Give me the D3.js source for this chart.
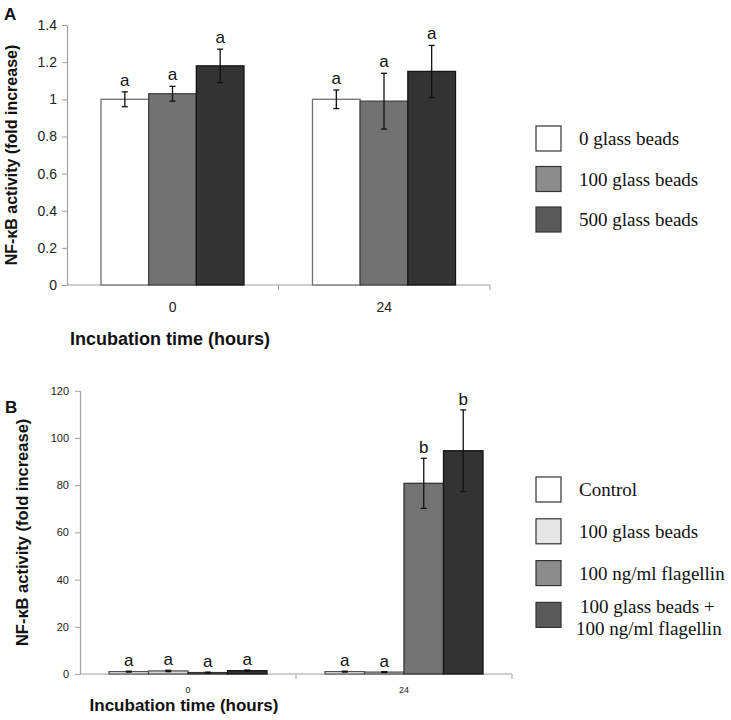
<!DOCTYPE html>
<html><head><meta charset="utf-8">
<script src="https://cdn.jsdelivr.net/npm/d3@7"></script>
<style>body{margin:0;background:#fff}svg{display:block}</style>
</head><body>
<svg id="c" width="731" height="720"></svg>
<script>
// ---------- Data ----------
const groupsA = ["0", "24"];
const seriesA = ["0 glass beads", "100 glass beads", "500 glass beads"];
const valuesA = [[1.00, 1.03, 1.18], [1.00, 0.99, 1.15]];
const errorsA = [[0.04, 0.04, 0.09], [0.05, 0.15, 0.14]];
const lettersA = [["a", "a", "a"], ["a", "a", "a"]];
const yTicksA = [0, 0.2, 0.4, 0.6, 0.8, 1, 1.2, 1.4];

const groupsB = ["0", "24"];
const seriesB = ["Control", "100 glass beads", "100 ng/ml flagellin", "100 glass beads +|100 ng/ml flagellin"];
const valuesB = [[1.0, 1.3, 0.6, 1.4], [1.0, 0.8, 80.8, 94.6]];
const errorsB = [[0.2, 0.3, 0.2, 0.3], [0.2, 0.2, 10.6, 17.3]];
const lettersB = [["a", "a", "a", "a"], ["a", "a", "b", "b"]];
const yTicksB = [0, 20, 40, 60, 80, 100, 120];

const barFillA = ["#ffffff", "#727272", "#333333"];
const barStrokeA = ["#707070", "#444444", "#141414"];
const legFillA = ["#ffffff", "#8c8c8c", "#5a5a5a"];
const barFillB = ["#ffffff", "#d6d6d6", "#737373", "#333333"];
const barStrokeB = ["#555555", "#555555", "#333333", "#141414"];
const legFillB = ["#ffffff", "#e6e6e6", "#8c8c8c", "#5a5a5a"];

const svg = d3.select("#c");
const SANS = "'Liberation Sans', Arial, sans-serif";
const SERIF = "'Liberation Serif', 'Times New Roman', serif";

function panel(cfg) {
  const g = svg.append("g");
  const x0 = d3.scaleBand().domain(cfg.groups).range([cfg.x0, cfg.x1]);
  const x1 = d3.scaleBand().domain(d3.range(cfg.series.length)).range(cfg.inner);
  const y = d3.scaleLinear().domain(cfg.ydom).range([cfg.yb, cfg.yt]);

  // y axis
  const ya = g.append("g").attr("transform", `translate(${cfg.x0},0)`)
    .call(d3.axisLeft(y).tickValues(cfg.yticks).tickSizeInner(5).tickSizeOuter(0).tickPadding(cfg.tickPad)
      .tickFormat(d => String(+d.toFixed(1))));
  ya.select(".domain").attr("stroke", "#a0a0a0").attr("stroke-width", 1.2);
  ya.selectAll(".tick line").attr("stroke", "#a0a0a0");
  ya.selectAll(".tick text").attr("font-family", SANS).attr("font-size", cfg.yTickSize).attr("fill", "#222");

  // x axis
  const xa = g.append("g").attr("transform", `translate(0,${cfg.yb})`);
  xa.append("line").attr("x1", cfg.x0).attr("x2", cfg.x1).attr("stroke", "#a0a0a0").attr("stroke-width", 1.2);
  const edges = cfg.groups.map(d => x0(d) + x0.bandwidth());
  xa.selectAll("line.tk").data(edges).join("line").attr("class", "tk")
    .attr("x1", d => d).attr("x2", d => d).attr("y1", 0).attr("y2", 5).attr("stroke", "#a0a0a0");
  xa.selectAll("text.xt").data(cfg.groups).join("text").attr("class", "xt")
    .attr("x", d => x0(d) + x0.bandwidth() / 2).attr("y", cfg.xTickDy)
    .attr("text-anchor", "middle").attr("font-family", SANS).attr("font-size", cfg.xTickSize).attr("fill", "#222")
    .text(d => d);

  // bars
  cfg.groups.forEach((grp, gi) => {
    cfg.values[gi].forEach((v, si) => {
      const bx = x0(grp) + x1(si);
      const bw = x1.bandwidth();
      g.append("rect").attr("x", bx).attr("y", y(v)).attr("width", bw).attr("height", y(0) - y(v))
        .attr("fill", cfg.fill[si]).attr("stroke", cfg.stroke[si]).attr("stroke-width", 1.3);
      const e = cfg.errors[gi][si];
      const cx = bx + bw / 2;
      g.append("line").attr("x1", cx).attr("x2", cx).attr("y1", y(v + e)).attr("y2", y(Math.max(0, v - e)))
        .attr("stroke", "#111").attr("stroke-width", 1.3);
      [v + e, Math.max(0, v - e)].forEach(t => g.append("line").attr("x1", cx - 3).attr("x2", cx + 3)
        .attr("y1", y(t)).attr("y2", y(t)).attr("stroke", "#111").attr("stroke-width", 1.3));
      g.append("text").attr("x", cx).attr("y", y(v + e) - cfg.letterGap).attr("text-anchor", "middle")
        .attr("font-family", SANS).attr("font-size", 17).attr("fill", "#111").text(cfg.letters[gi][si]);
    });
  });

  // axis titles
  g.append("text").attr("transform", `translate(${cfg.ylabX},${(cfg.yb + cfg.yt) / 2}) rotate(-90)`)
    .attr("text-anchor", "middle").attr("font-family", SANS).attr("font-weight", "bold")
    .attr("font-size", cfg.ylabSize).attr("fill", "#111").text("NF-κB activity (fold increase)");
  g.append("text").attr("x", cfg.xlabX).attr("y", cfg.xlabY).attr("text-anchor", "middle")
    .attr("font-family", SANS).attr("font-weight", "bold").attr("font-size", cfg.xlabSize).attr("fill", "#111")
    .text("Incubation time (hours)");
  g.append("text").attr("x", cfg.tagX).attr("y", cfg.tagY).attr("font-family", SANS).attr("font-weight", "bold")
    .attr("font-size", 17).attr("fill", "#111").text(cfg.tag);

  // legend
  cfg.series.forEach((s, i) => {
    const ly = cfg.legY + i * cfg.legStep;
    g.append("rect").attr("x", 536).attr("y", ly).attr("width", 25).attr("height", 25)
      .attr("fill", cfg.legFill[i]).attr("stroke", "#333").attr("stroke-width", 1.2);
    const lines = s.split("|");
    lines.forEach((ln, k) => {
      const base = lines.length === 1 ? ly + 12.5 + 6.5 : ly + 10.5 + k * 22;
      g.append("text").attr("x", lines.length === 1 ? 579 : (k === 0 ? 580 : 576)).attr("y", base)
        .attr("font-family", SERIF).attr("font-size", 19).attr("fill", "#111").text(ln);
    });
  });
}

panel({
  groups: groupsA, series: seriesA, values: valuesA, errors: errorsA, letters: lettersA,
  yticks: yTicksA, ydom: [0, 1.4], x0: 67, x1: 490, inner: [34, 177], yb: 285, yt: 25,
  fill: barFillA, stroke: barStrokeA, legFill: legFillA,
  yTickSize: 14, tickPad: 5, xTickSize: 14, xTickDy: 27, letterGap: 6,
  ylabX: 17, ylabSize: 16, xlabX: 170, xlabY: 345, xlabSize: 18, tag: "A", tagX: 4, tagY: 20,
  legY: 126, legStep: 40.5
});

panel({
  groups: groupsB, series: seriesB, values: valuesB, errors: errorsB, letters: lettersB,
  yticks: yTicksB, ydom: [0, 120], x0: 80, x1: 512, inner: [29, 187], yb: 674, yt: 390.8,
  fill: barFillB, stroke: barStrokeB, legFill: legFillB,
  yTickSize: 11, tickPad: 6, xTickSize: 9, xTickDy: 19, letterGap: 5,
  ylabX: 28, ylabSize: 16.5, xlabX: 184, xlabY: 711, xlabSize: 17, tag: "B", tagX: 5, tagY: 413,
  legY: 477, legStep: 41.8
});
</script>
</body></html>
